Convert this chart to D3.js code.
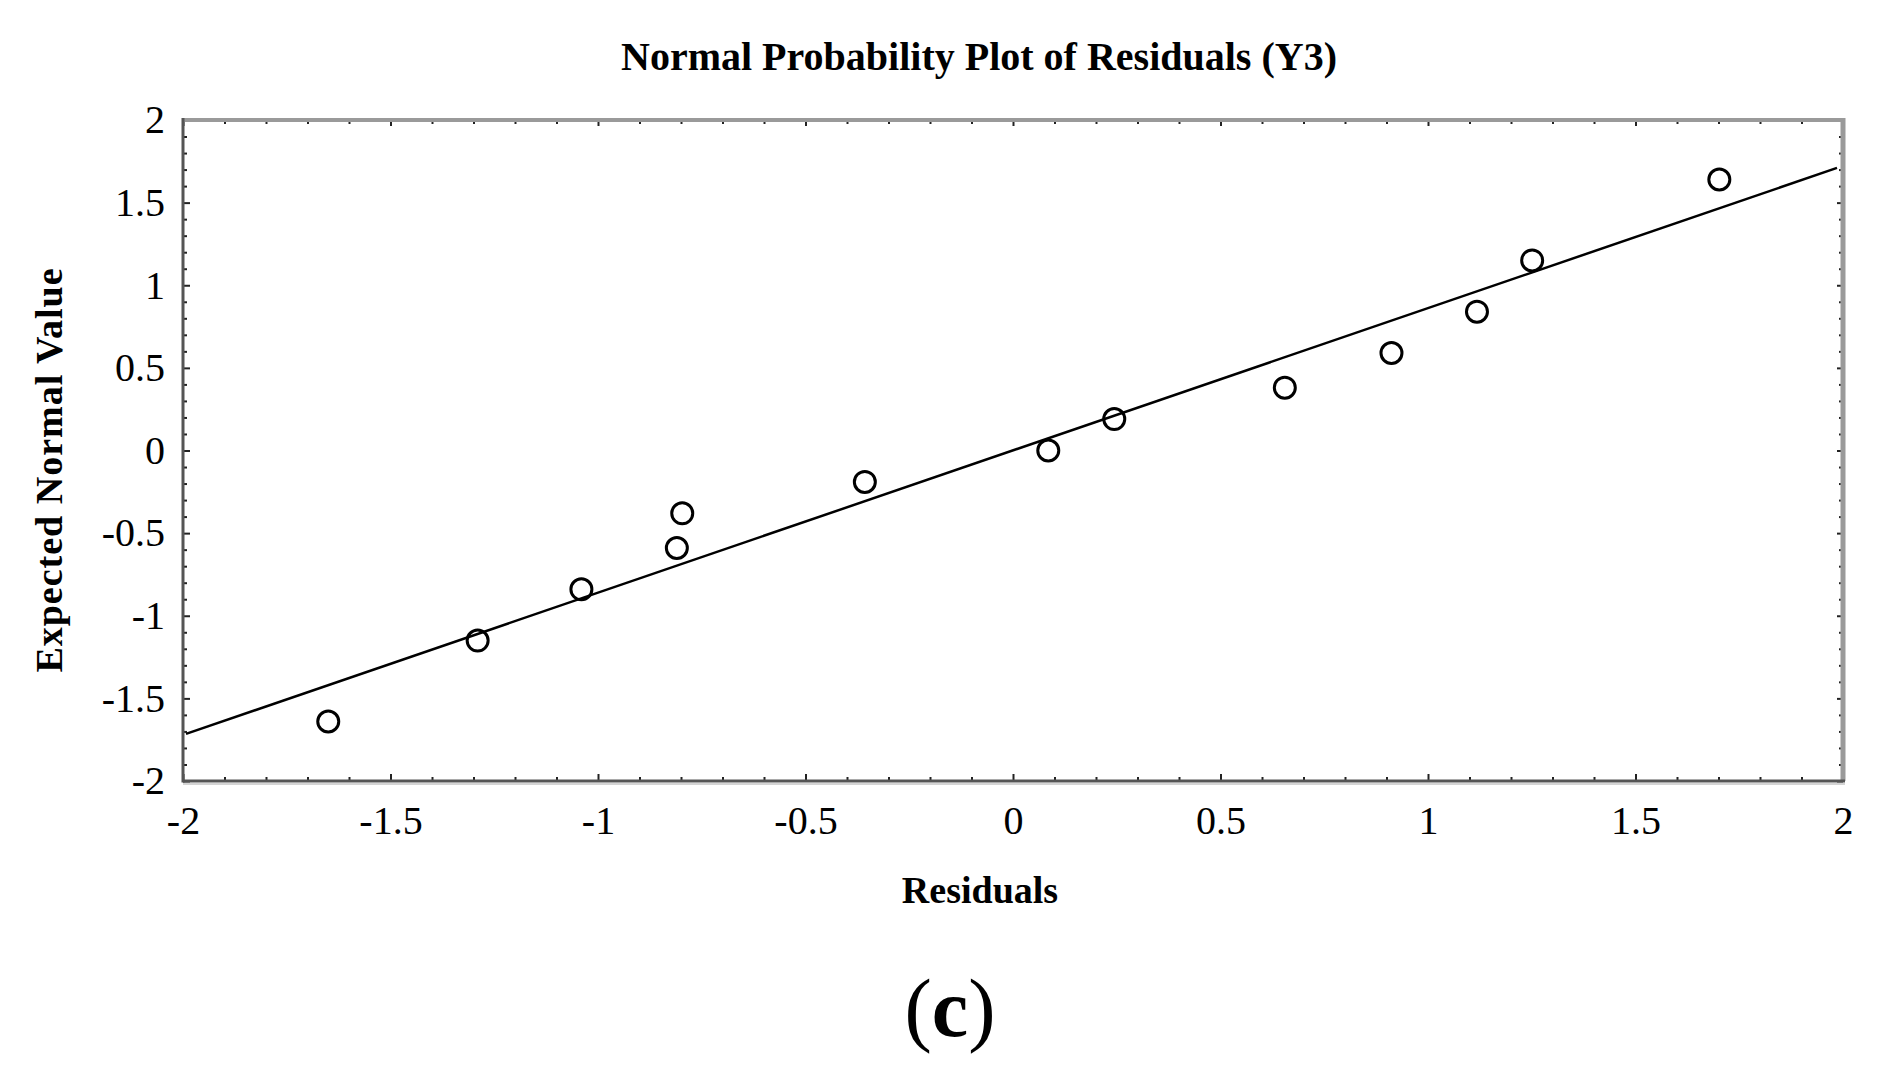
<!DOCTYPE html>
<head>
   <meta charset="utf-8">
   <script src="https://d3js.org/d3.v7.min.js"></script>
   <style>
   body{
      margin: 0;
      background: #ffffff;
   }
   text{
      font-family: "Liberation Serif", "Times New Roman", serif;
      fill: #000000;
   }
   text.title{
      font-size: 40px;
      font-weight: 700;
   }
   text.axisTitle{
      font-size: 38px;
      font-weight: 700;
   }
   text.panel{
      font-size: 82px;
   }
   .tick text{
      font-size: 40px;
      font-family: "Liberation Serif", "Times New Roman", serif;
      fill: #000000;
   }
   .tick line{
      stroke: #222222;
      stroke-width: 2;
   }
   path.domain{
      display: none;
   }
   </style>
   <title>Normal Probability Plot of Residuals (Y3)</title>
</head>

<body>
   <script>
const width  = 1883;
const height = 1073;

// values
const residuals      = [-1.65, -1.29, -1.04, -0.81, -0.797, -0.357, 0.085, 0.244, 0.655, 0.912, 1.118, 1.251, 1.702];
const expectedNormal = [-1.64, -1.15, -0.84, -0.59, -0.38, -0.19, 0.0, 0.19, 0.38, 0.59, 0.84, 1.15, 1.64];
const fitX = [-2, 2];
const fitY = [-1.715, 1.71];
const majorTicks = [-2, -1.5, -1, -0.5, 0, 0.5, 1, 1.5, 2];

const title  = 'Normal Probability Plot of Residuals (Y3)';
const xTitle = 'Residuals';
const yTitle = 'Expected Normal Value';

const margin = {top: 120, right: 40, bottom: 292, left: 183};

const svg = d3.select('body').append('svg')
   .attr('width', width)
   .attr('height', height);

const x = d3.scaleLinear()
   .domain([-2, 2])
   .range([margin.left, width - margin.right]);

const y = d3.scaleLinear()
   .domain([-2, 2])
   .range([height - margin.bottom, margin.top]);

const fmt = d => String(d);
const minorTicks = x.ticks(40).filter(d => majorTicks.indexOf(Math.round(d*10)/10) < 0);

// minor ticks (all four sides, pointing in)
svg.append('g')
   .attr('transform', `translate(0, ${y(-2)})`)
   .call(d3.axisBottom(x).tickValues(minorTicks).tickSize(-4).tickFormat(''));
svg.append('g')
   .attr('transform', `translate(0, ${y(2)})`)
   .call(d3.axisTop(x).tickValues(minorTicks).tickSize(-4).tickFormat(''));
svg.append('g')
   .attr('transform', `translate(${x(-2)}, 0)`)
   .call(d3.axisLeft(y).tickValues(minorTicks).tickSize(-4).tickFormat(''));
svg.append('g')
   .attr('transform', `translate(${x(2)}, 0)`)
   .call(d3.axisRight(y).tickValues(minorTicks).tickSize(-4).tickFormat(''));

// major ticks with labels
svg.append('g')
   .attr('class', 'axis xAxis')
   .attr('transform', `translate(0, ${y(-2)})`)
   .call(d3.axisBottom(x).tickValues(majorTicks).tickSize(-7).tickPadding(25).tickFormat(fmt));
svg.append('g')
   .attr('class', 'axis yAxis')
   .attr('transform', `translate(${x(-2)}, 0)`)
   .call(d3.axisLeft(y).tickValues(majorTicks).tickSize(-7).tickPadding(18).tickFormat(fmt));
svg.append('g')
   .attr('transform', `translate(0, ${y(2)})`)
   .call(d3.axisTop(x).tickValues(majorTicks).tickSize(-6).tickFormat(''));
svg.append('g')
   .attr('transform', `translate(${x(2)}, 0)`)
   .call(d3.axisRight(y).tickValues(majorTicks).tickSize(-6).tickFormat(''));

// frame: light top/right, dark left/bottom
svg.append('line')
   .attr('x1', x(-2)).attr('x2', x(2) + 2)
   .attr('y1', y(2)).attr('y2', y(2))
   .style('stroke', '#9a9a9a').style('stroke-width', 4);
svg.append('line')
   .attr('x1', x(2)).attr('x2', x(2))
   .attr('y1', y(2) - 2).attr('y2', y(-2))
   .style('stroke', '#9a9a9a').style('stroke-width', 5);
svg.append('line')
   .attr('x1', x(-2)).attr('x2', x(2) + 2)
   .attr('y1', y(-2) + 3).attr('y2', y(-2) + 3)
   .style('stroke', '#d4d4d4').style('stroke-width', 2);
svg.append('line')
   .attr('x1', x(-2)).attr('x2', x(2) + 2)
   .attr('y1', y(-2)).attr('y2', y(-2))
   .style('stroke', '#555555').style('stroke-width', 3);
svg.append('line')
   .attr('x1', x(-2)).attr('x2', x(-2))
   .attr('y1', y(2) - 2).attr('y2', y(-2) + 1.5)
   .style('stroke', '#555555').style('stroke-width', 3);

// fitted line
svg.append('line')
   .attr('x1', x(fitX[0]) + 3).attr('y1', y(fitY[0]))
   .attr('x2', x(fitX[1]) - 6).attr('y2', y(fitY[1]))
   .style('stroke', '#000000')
   .style('stroke-width', 2.5);

// points
svg.selectAll('circle.pt')
   .data(residuals.map((r, i) => ({r: r, e: expectedNormal[i]})))
   .enter()
   .append('circle')
   .attr('class', 'pt')
   .attr('cx', d => x(d.r))
   .attr('cy', d => y(d.e))
   .attr('r', 10.5)
   .style('fill', 'none')
   .style('stroke', '#000000')
   .style('stroke-width', 3);

// titles
svg.append('text')
   .attr('class', 'title')
   .attr('x', 979)
   .attr('y', 70)
   .style('text-anchor', 'middle')
   .text(title);

svg.append('text')
   .attr('class', 'axisTitle')
   .attr('x', 980)
   .attr('y', 903)
   .style('text-anchor', 'middle')
   .text(xTitle);

svg.append('text')
   .attr('class', 'axisTitle')
   .attr('transform', 'translate(62, 470) rotate(-90)')
   .style('text-anchor', 'middle')
   .style('letter-spacing', '1px')
   .text(yTitle);

const panel = svg.append('text')
   .attr('class', 'panel')
   .attr('x', 950)
   .attr('y', 1036)
   .style('text-anchor', 'middle');
panel.append('tspan').text('(');
panel.append('tspan').style('font-weight', 700).text('c');
panel.append('tspan').text(')');
   </script>
</body>
